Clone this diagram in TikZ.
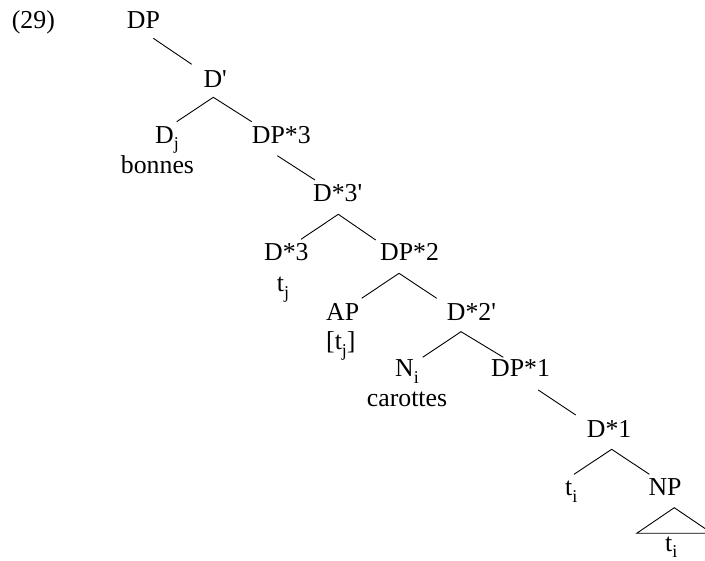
\documentclass[tikz,border=0pt]{standalone}
\usepackage{fontspec}
\setmainfont{Liberation Serif}[Ligatures=TeXOff]
\newcommand{\lowsub}[1]{\raisebox{-0.25em}{\fontsize{18}{18}\selectfont #1}}
\begin{document}
\begin{tikzpicture}[x=1pt,y=-1pt,
  lbl/.style={anchor=base west,inner sep=0pt,font=\fontsize{25.8}{30}\selectfont},
  edge/.style={line width=0.9pt}]
\useasboundingbox (0,0) rectangle (705,561);
% labels
\node[lbl] (ex)   at (11.7,28.3)  {(29)};
\node[lbl] (dp)   at (126.7,28.3) {DP};
\node[lbl] (dbar) at (203.3,87.3) {D'};
\node[lbl] (dj)   at (155,143.3)  {D\lowsub{j}};
\node[lbl] (bon)  at (120.7,173.3) {bonnes};
\node[lbl] (dp3)  at (251.7,143.3) {DP*3};
\node[lbl] (d3b)  at (313,201.7)  {D*3'};
\node[lbl] (d3)   at (264,260.7)  {D*3};
\node[lbl] (tj)   at (276.7,291.7) {t\lowsub{j}};
\node[lbl] (dp2)  at (380,260.7)  {DP*2};
\node[lbl] (ap)   at (326,320.7)  {AP};
\node[lbl] (tjb)  at (326,350)    {[t\lowsub{j}]};
\node[lbl] (d2b)  at (446.7,321)  {D*2'};
\node[lbl] (ni)   at (395,377)    {N\lowsub{i}};
\node[lbl] (car)  at (366.7,407)  {carottes};
\node[lbl] (dp1)  at (491,377)    {DP*1};
\node[lbl] (d1)   at (586.7,437.3) {D*1};
\node[lbl] (ti)   at (565,496)    {t\lowsub{i}};
\node[lbl] (np)   at (648.3,495.5) {NP};
\node[lbl] (tib)  at (665,551.5)  {t\lowsub{i}};
% connectors
\draw[edge] ([shift={(26.6,10)}]dp.base west) -- ([shift={(-11.6,-23)}]dbar.base west);
\draw[edge] ([shift={(21.7,-21.6)}]dj.base west) -- ([shift={(10,10)}]dbar.base west) -- ([shift={(0,-21.6)}]dp3.base west);
\draw[edge] ([shift={(25.6,12.4)}]dp3.base west) -- ([shift={(2,-21.7)}]d3b.base west);
\draw[edge] ([shift={(37,-21.4)}]d3.base west) -- ([shift={(25.3,12.6)}]d3b.base west) -- ([shift={(-4.3,-20.7)}]dp2.base west);
\draw[edge] ([shift={(35.7,-22.4)}]ap.base west) -- ([shift={(19,12.6)}]dp2.base west) -- ([shift={(-10,-22.7)}]d2b.base west);
\draw[edge] ([shift={(27.7,-19.7)}]ni.base west) -- ([shift={(14.3,10.7)}]d2b.base west) -- ([shift={(12.3,-19.7)}]dp1.base west);
\draw[edge] ([shift={(47.3,13)}]dp1.base west) -- ([shift={(-11,-22.3)}]d1.base west);
\draw[edge] ([shift={(9,-21.7)}]ti.base west) -- ([shift={(25,12)}]d1.base west) -- ([shift={(1,-21.2)}]np.base west);
\draw[edge] ([shift={(26,12.2)}]np.base west) -- ([shift={(-28.3,-18.2)}]tib.base west) -- ([shift={(47,-18.2)}]tib.base west) -- cycle;
\end{tikzpicture}
\end{document}
